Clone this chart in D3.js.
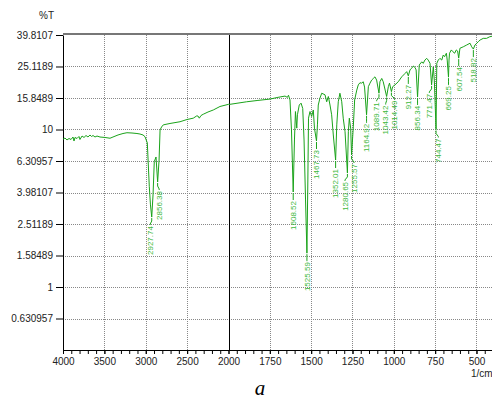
<!DOCTYPE html>
<html>
<head>
<meta charset="utf-8">
<title>IR spectrum</title>
<style>
  body { margin: 0; background: #fff; }
  svg text { font-family: "Liberation Sans", Arial, sans-serif; }
</style>
</head>
<body>
<script src="https://d3js.org/d3.v7.min.js"></script>
<script>

// wavenumber (1/cm), %T
var spectrum = [
  [4000, 8.67], [3976, 8.83], [3952, 8.58], [3927, 8.77], [3903, 8.64], [3879, 8.96], [3867, 8.45],
  [3855, 8.90], [3831, 8.77], [3807, 9.03], [3795, 8.64], [3770, 9.09], [3746, 8.90], [3722, 9.16],
  [3698, 8.96], [3674, 9.23], [3656, 9.03], [3637, 9.16], [3613, 8.96], [3589, 9.09], [3553, 8.96],
  [3492, 8.90], [3432, 8.80], [3396, 8.96], [3335, 9.23], [3275, 9.43], [3227, 9.54], [3166, 9.50],
  [3106, 9.43], [3070, 9.36], [3033, 9.23], [3009, 9.00], [2981, 8.21], [2957, 4.33], [2943, 3.32],
  [2927.74, 2.78], [2912, 3.84], [2897, 6.25], [2876, 6.69], [2856.38, 4.64], [2839, 6.40],
  [2827, 9.93], [2809, 10.37], [2788, 10.7], [2707, 10.92], [2586, 11.2], [2502, 11.57],
  [2426, 11.8], [2384, 12.2], [2369, 12.18], [2353, 11.8], [2332, 12.27], [2305, 12.5],
  [2248, 12.91], [2184, 13.3], [2103, 14.0], [2000, 14.45],
  [1991, 14.45], [1890, 15.0], [1822, 15.3], [1749, 15.6], [1701, 16.0], [1658, 16.3], [1644, 16.0],
  [1637, 16.5], [1628, 15.4], [1619, 9.93], [1608.52, 4.01], [1601, 8.58], [1595, 13.0], [1587, 10.2],
  [1583, 12.4], [1572, 14.3], [1561, 14.7], [1551, 13.6], [1543, 8.58], [1534, 3.57], [1525.59, 1.64],
  [1520, 4.78], [1516, 11.8], [1507, 13.0], [1497, 12.1], [1487, 13.3], [1480, 10.2], [1467.73, 8.45],
  [1462, 10.7], [1457, 14.3], [1447, 15.8], [1436, 17.0], [1416, 16.6], [1406, 15.0], [1396, 16.2],
  [1386, 14.3], [1376, 12.4], [1366, 9.23], [1352.01, 6.40], [1345, 10.7], [1336, 15.0], [1326, 17.0],
  [1315, 15.0], [1306, 11.8], [1295, 9.68], [1280.65, 5.30], [1275, 9.68], [1269, 11.8], [1261, 10.2],
  [1255.57, 6.89], [1245, 10.4], [1237, 15.4], [1224, 17.8], [1215, 19.2], [1205, 19.8], [1194, 19.7],
  [1185, 20.1], [1177, 18.6], [1164.92, 12.4], [1154, 18.7], [1144, 19.7], [1134, 20.6], [1124, 21.1],
  [1114, 21.6], [1104, 20.6], [1089.71, 17.0], [1084, 20.1], [1073, 21.1], [1064, 20.1], [1043.42, 16.2],
  [1033, 18.7], [1026, 19.7], [1014.49, 17.4], [1007, 18.7], [993, 19.2], [973, 20.1], [952, 21.6],
  [932, 22.7], [922, 23.3], [912.27, 21.9], [902, 23.9], [892, 24.5], [882, 25.3], [872, 24.8],
  [865, 23.9], [856.34, 16.1], [846, 25.7], [831, 26.9], [822, 26.3], [812, 27.6], [801, 28.3],
  [792, 27.6], [781, 26.3], [771.47, 19.2], [761, 25.0], [755, 20.6], [744.47, 10.0], [740, 26.3],
  [731, 27.6], [721, 28.3], [710, 27.6], [701, 29.7], [693, 29.0], [682, 30.5], [677, 27.6],
  [669.25, 21.5], [666, 27.6], [663, 30.5], [652, 32.0], [643, 31.2], [632, 30.5], [622, 32.0],
  [614, 31.5], [607.54, 28.4], [600, 32.8], [580, 33.5], [559, 34.4], [539, 35.3], [529, 33.5],
  [518.82, 32.4], [509, 34.4], [498, 35.3], [489, 36.1], [478, 37.0], [459, 37.9], [439, 37.9],
  [420, 38.8], [401, 39.2]
];

var peaks = [2927.74, 2856.38, 1608.52, 1525.59, 1467.73, 1352.01, 1280.65, 1255.57, 1164.92,
  1089.71, 1043.42, 1014.49, 912.27, 856.34, 771.47, 744.47, 669.25, 607.54, 518.82];

var yTickLabels = ["39.8107", "25.1189", "15.8489", "10", "6.30957", "3.98107", "2.51189",
  "1.58489", "1", "0.630957"];

var xTickLabels = [4000, 3500, 3000, 2500, 2000, 1750, 1500, 1250, 1000, 750, 500];

var W = 492, H = 400;
var plotLeft = 63, plotTop = 35, plotBottom = 350;

var x = d3.scaleLinear().domain([4000, 2000, 400]).range([plotLeft, 228.5, 493]);
var y = d3.scaleLog().domain([Math.pow(10, -0.4), Math.pow(10, 1.6)]).range([plotBottom, plotTop]);

var svg = d3.select("body").append("svg")
    .attr("width", W)
    .attr("height", H);

svg.append("clipPath").attr("id", "plot")
  .append("rect").attr("x", plotLeft).attr("y", plotTop - 2)
  .attr("width", W - plotLeft).attr("height", plotBottom - plotTop + 2);

// grid
var grid = svg.append("g");
grid.selectAll(".hg").data(yTickLabels.slice(1)).enter().append("line")
    .attr("x1", plotLeft).attr("x2", W)
    .attr("y1", function(d) { return Math.round(y(+d)) + 0.5; })
    .attr("y2", function(d) { return Math.round(y(+d)) + 0.5; })
    .attr("stroke", "#888").attr("stroke-dasharray", "1,1");
grid.selectAll(".vg").data(xTickLabels.filter(function(d) { return d != 4000 && d != 2000; })).enter().append("line")
    .attr("y1", plotTop).attr("y2", plotBottom)
    .attr("x1", function(d) { return Math.round(x(d)) + 0.5; })
    .attr("x2", function(d) { return Math.round(x(d)) + 0.5; })
    .attr("stroke", "#888").attr("stroke-dasharray", "1,1");

// divider at 2000
svg.append("line")
    .attr("x1", Math.round(x(2000)) + 0.5).attr("x2", Math.round(x(2000)) + 0.5)
    .attr("y1", plotTop).attr("y2", plotBottom)
    .attr("stroke", "#000");

// top border
svg.append("line")
    .attr("x1", plotLeft).attr("x2", W).attr("y1", plotTop - 1).attr("y2", plotTop - 1)
    .attr("stroke", "#777").attr("stroke-width", 2);

// x axis: minor ticks then labelled
var minor = d3.range(4000, 2000, -100).concat(d3.range(2000, 399, -50));
svg.append("g")
    .attr("transform", "translate(0," + plotBottom + ")")
    .call(d3.axisBottom(x).tickValues(minor).tickSize(4).tickSizeOuter(0).tickFormat(""))
    .call(function(g) { g.select(".domain").attr("d", "M" + plotLeft + ",0.5H" + W); });

svg.append("g")
    .attr("transform", "translate(0," + plotBottom + ")")
    .call(d3.axisBottom(x).tickValues(xTickLabels).tickSize(4).tickPadding(4).tickSizeOuter(0)
        .tickFormat(d3.format("d")))
    .call(function(g) {
        g.select(".domain").remove();
        g.selectAll("text").attr("font-size", 10).attr("fill", "#222");
    });

// y axis
svg.append("g")
    .attr("transform", "translate(" + plotLeft + ",0)")
    .call(d3.axisLeft(y).tickValues(yTickLabels.map(Number)).tickSize(7).tickPadding(3).tickSizeOuter(0)
        .tickFormat(function(d, i) { return yTickLabels[i]; }))
    .call(function(g) {
        g.selectAll("text").attr("font-size", 10).attr("fill", "#222");
    });

// spectrum
var line = d3.line()
    .x(function(d) { return x(d[0]); })
    .y(function(d) { return y(d[1]); });

svg.append("path")
    .datum(spectrum)
    .attr("clip-path", "url(#plot)")
    .attr("d", line)
    .attr("fill", "none")
    .attr("stroke", "#1aa31a")
    .attr("stroke-width", 1);

// peak labels, pushed apart when too close
var labs = peaks.map(function(p) {
    var pt = spectrum.find(function(d) { return d[0] === p; });
    return { wn: p, px: x(p), lx: x(p), py: y(pt[1]) };
});
for (var it = 0; it < 60; it++) {
    for (var i = 1; i < labs.length; i++) {
        var gap = labs[i].lx - labs[i - 1].lx;
        if (gap < 9) {
            var d = (9 - gap) / 2;
            labs[i - 1].lx -= d;
            labs[i].lx += d;
        }
    }
}

var pg = svg.append("g");
pg.selectAll("path").data(labs).enter().append("path")
    .attr("d", function(d) {
        return "M" + d.px + "," + (d.py + 1) + "L" + d.px + "," + (d.py + 4) +
               "L" + d.lx + "," + (d.py + 7) + "L" + d.lx + "," + (d.py + 8);
    })
    .attr("fill", "none")
    .attr("stroke", "#1aa31a");

pg.selectAll("text").data(labs).enter().append("text")
    .attr("transform", function(d) { return "translate(" + d.lx + "," + (d.py + 9) + ") rotate(-90)"; })
    .attr("dy", "0.35em")
    .attr("text-anchor", "end")
    .attr("font-size", 8)
    .attr("fill", "#3cb83c")
    .text(function(d) { return d.wn.toFixed(2); });

// axis titles
svg.append("text").attr("x", 39).attr("y", 19).attr("font-size", 10).attr("fill", "#222").text("%T");
svg.append("text").attr("x", 471).attr("y", 377).attr("font-size", 10).attr("fill", "#222").text("1/cm");
svg.append("text")
    .attr("x", 260).attr("y", 395)
    .attr("text-anchor", "middle")
    .attr("font-size", 21)
    .attr("font-style", "italic")
    .style("font-family", "'Liberation Serif', 'Times New Roman', serif")
    .text("a");

</script>
</body>
</html>
